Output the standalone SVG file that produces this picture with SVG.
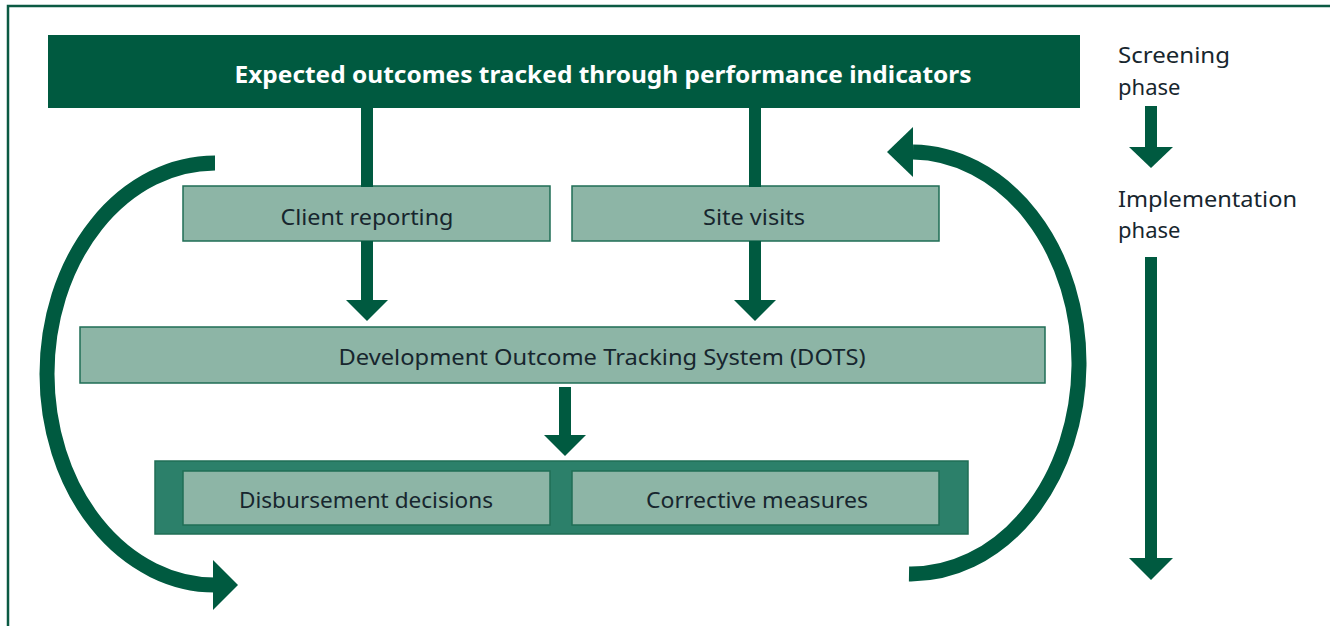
<svg xmlns="http://www.w3.org/2000/svg" width="1330" height="626" viewBox="0 0 1330 626">
<style>
.frame{fill:none;stroke:#0b5a43;stroke-width:2.5}
.hdr{fill:#005a40}
.box{fill:#8db5a6;stroke:#1f6e55;stroke-width:1.5}
.cont{fill:#2c806a;stroke:#1f6e55;stroke-width:1.5}
.shaft{fill:#005a40}
.head{fill:#005a40}
.curve{fill:none;stroke:#005a40;stroke-width:15}
.t{font-family:"Noto Sans","Open Sans","Liberation Sans",sans-serif;font-size:22px;fill:#17262e}
.tc{text-anchor:middle}
.th{font-family:"Noto Sans","Open Sans","Liberation Sans",sans-serif;font-size:24px;font-weight:bold;fill:#ffffff;text-anchor:middle}
</style>
<rect width="1330" height="626" fill="#ffffff"/>
<path class="frame" d="M8,626 V6 H1330"/>

<g id="header">
<rect class="hdr" x="48" y="35" width="1032" height="73"/>
<text class="th" x="603" y="83" textLength="737" lengthAdjust="spacingAndGlyphs">Expected outcomes tracked through performance indicators</text>
</g>

<g id="client-reporting">
<rect class="box" x="183" y="186" width="367" height="55"/>
<text class="t tc" x="367" y="225" textLength="173" lengthAdjust="spacingAndGlyphs">Client reporting</text>
</g>

<g id="site-visits">
<rect class="box" x="572" y="186" width="367" height="55"/>
<text class="t tc" x="754" y="225" textLength="102" lengthAdjust="spacingAndGlyphs">Site visits</text>
</g>

<g id="dots">
<rect class="box" x="80" y="327" width="965" height="56"/>
<text class="t tc" x="602" y="365" textLength="527" lengthAdjust="spacingAndGlyphs">Development Outcome Tracking System (DOTS)</text>
</g>

<g id="actions">
<rect class="cont" x="155" y="461" width="813" height="73"/>
<g id="disbursement">
<rect class="box" x="183" y="471" width="367" height="54"/>
<text class="t tc" x="366" y="508" textLength="254" lengthAdjust="spacingAndGlyphs">Disbursement decisions</text>
</g>
<g id="corrective">
<rect class="box" x="572" y="471" width="367" height="54"/>
<text class="t tc" x="757" y="508" textLength="222" lengthAdjust="spacingAndGlyphs">Corrective measures</text>
</g>
</g>

<g id="phases">
<text class="t" x="1118" y="63" textLength="112" lengthAdjust="spacingAndGlyphs">Screening</text>
<text class="t" x="1118" y="95">phase</text>
<text class="t" x="1118" y="207" textLength="179" lengthAdjust="spacingAndGlyphs">Implementation</text>
<text class="t" x="1118" y="238">phase</text>
</g>

<g id="connectors">
<rect class="shaft" x="361" y="107" width="12" height="80"/>
<rect class="shaft" x="749" y="107" width="12" height="80"/>
<rect class="shaft" x="361" y="241" width="12" height="60"/>
<polygon class="head" points="346,300 388,300 367,321"/>
<rect class="shaft" x="749" y="241" width="12" height="60"/>
<polygon class="head" points="734,300 776,300 755,321"/>
<rect class="shaft" x="559" y="387" width="12" height="49"/>
<polygon class="head" points="544,435 586,435 565,456"/>
<path class="curve" d="M215,163 A168,211 0 0 0 215,585"/>
<polygon class="head" points="213,560 238,585 213,610"/>
<path class="curve" d="M909,574 A168,211 0 0 0 913,152"/>
<polygon class="head" points="913,127 887,152 913,177"/>
<rect class="shaft" x="1145" y="106" width="12" height="42"/>
<polygon class="head" points="1129,147 1173,147 1151,168"/>
<rect class="shaft" x="1145" y="257" width="12" height="302"/>
<polygon class="head" points="1129,558 1173,558 1151,580"/>
</g>
</svg>
